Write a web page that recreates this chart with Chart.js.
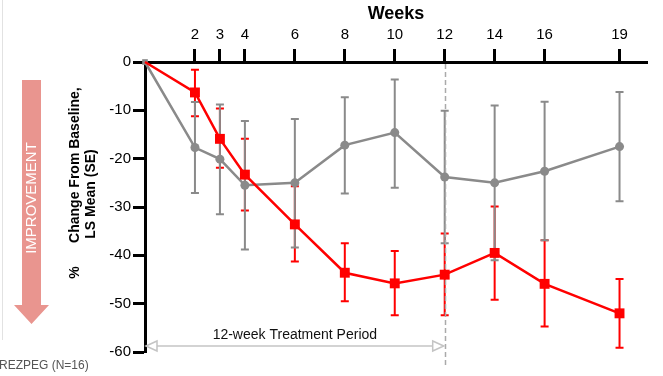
<!DOCTYPE html>
<html>
<head>
<meta charset="utf-8">
<script src="https://cdn.jsdelivr.net/npm/chart.js@4.4.1/dist/chart.umd.min.js"></script>
<style>
  html, body { margin: 0; padding: 0; background: #fff; }
  #wrap { width: 663px; height: 376px; position: relative; }
</style>
</head>
<body>
<div id="wrap"><canvas id="chart" width="663" height="376"></canvas></div>
<script>
// ------ data
const weeks = [0, 2, 3, 4, 6, 8, 10, 12, 14, 16, 19];
const weekTicks = [2, 3, 4, 6, 8, 10, 12, 14, 16, 19];

const rezpegMean = [0, -6.3, -15.9, -23.3, -33.6, -43.6, -45.8, -44.0, -39.5, -45.9, -52.0];
const rezpegHigh = [0, -1.6, -9.6, -15.9, -25.7, -37.5, -39.1, -35.5, -29.9, -36.9, -44.9];
const rezpegLow  = [0, -11.2, -21.9, -30.7, -41.3, -49.5, -52.4, -52.4, -49.2, -54.7, -59.1];

const placeboMean = [0, -17.7, -20.1, -25.5, -25.0, -17.2, -14.6, -23.8, -25.0, -22.6, -17.5];
const placeboHigh = [0, -8.3, -8.8, -12.2, -11.8, -7.3, -3.6, -10.1, -9.0, -8.2, -6.2];
const placeboLow  = [0, -27.1, -31.5, -38.8, -38.4, -27.2, -26.0, -37.5, -41.0, -36.9, -28.8];

const treatmentWeeks = 12;
const RED = '#ff0000';
const GREY = '#8a8a8a';

// ------ error bars, week-12 line, side annotations
const extras = {
    id: 'extras',
    beforeDatasetsDraw(chart) {
        const ctx = chart.ctx;
        const x = chart.scales.x, y = chart.scales.y;
        function bars(low, high, color) {
            ctx.save();
            ctx.strokeStyle = color;
            ctx.lineWidth = 2;
            for (let i = 1; i < weeks.length; i++) {
                const px = x.getPixelForValue(weeks[i]);
                const top = y.getPixelForValue(high[i]);
                const bot = y.getPixelForValue(low[i]);
                ctx.beginPath();
                ctx.moveTo(px, top); ctx.lineTo(px, bot);
                ctx.moveTo(px - 4, top); ctx.lineTo(px + 4, top);
                ctx.moveTo(px - 4, bot); ctx.lineTo(px + 4, bot);
                ctx.stroke();
            }
            ctx.restore();
        }
        bars(rezpegLow, rezpegHigh, RED);
        bars(placeboLow, placeboHigh, GREY);

        // dashed end-of-treatment line
        const px12 = Math.round(x.getPixelForValue(treatmentWeeks)) + 0.5;
        ctx.save();
        ctx.strokeStyle = '#aaaaaa';
        ctx.lineWidth = 1.5;
        ctx.setLineDash([5, 3]);
        ctx.beginPath();
        ctx.moveTo(px12, y.top + 2);
        ctx.lineTo(px12, y.bottom + 13);
        ctx.stroke();
        ctx.restore();
    },
    afterDraw(chart) {
        const ctx = chart.ctx;
        const x = chart.scales.x, y = chart.scales.y;

        // treatment period double arrow
        const x0 = x.getPixelForValue(0), x1 = x.getPixelForValue(treatmentWeeks);
        const ay = y.bottom - 6;
        ctx.save();
        ctx.strokeStyle = '#c4c4c4';
        ctx.lineWidth = 1.5;
        ctx.beginPath();
        ctx.moveTo(x0 + 12, ay); ctx.lineTo(x1 - 12, ay);
        ctx.stroke();
        ctx.fillStyle = '#fff';
        ctx.beginPath();
        ctx.moveTo(x0 + 1, ay); ctx.lineTo(x0 + 12, ay - 5); ctx.lineTo(x0 + 12, ay + 5); ctx.closePath();
        ctx.fill(); ctx.stroke();
        ctx.beginPath();
        ctx.moveTo(x1 - 1, ay); ctx.lineTo(x1 - 12, ay - 5); ctx.lineTo(x1 - 12, ay + 5); ctx.closePath();
        ctx.fill(); ctx.stroke();
        ctx.fillStyle = '#111';
        ctx.font = '14px Arial, "Liberation Sans", sans-serif';
        ctx.textAlign = 'center';
        ctx.textBaseline = 'middle';
        ctx.fillText('12-week Treatment Period', (x0 + x1) / 2, ay - 11);
        ctx.restore();

        // y axis title (two lines, rotated)
        ctx.save();
        ctx.fillStyle = '#000';
        ctx.font = 'bold 14px Arial, "Liberation Sans", sans-serif';
        ctx.textAlign = 'center';
        ctx.textBaseline = 'middle';
        ctx.translate(75, 183);
        ctx.rotate(-Math.PI / 2);
        ctx.fillText('%      Change From Baseline,', 0, 0);
        ctx.restore();
        ctx.save();
        ctx.fillStyle = '#000';
        ctx.font = 'bold 14px Arial, "Liberation Sans", sans-serif';
        ctx.textAlign = 'center';
        ctx.textBaseline = 'middle';
        ctx.translate(91, 194);
        ctx.rotate(-Math.PI / 2);
        ctx.fillText('LS Mean (SE)', 0, 0);
        ctx.restore();

        // improvement arrow
        ctx.save();
        ctx.fillStyle = '#e9958f';
        ctx.beginPath();
        ctx.moveTo(22, 80); ctx.lineTo(41, 80); ctx.lineTo(41, 305);
        ctx.lineTo(49, 305); ctx.lineTo(31.5, 324); ctx.lineTo(14, 305);
        ctx.lineTo(22, 305); ctx.closePath();
        ctx.fill();
        ctx.fillStyle = '#fff';
        ctx.font = '15px Arial, "Liberation Sans", sans-serif';
        ctx.textAlign = 'center';
        ctx.textBaseline = 'middle';
        ctx.translate(32, 198);
        ctx.rotate(-Math.PI / 2);
        ctx.fillText('IMPROVEMENT', 0, 0);
        ctx.restore();

        // left frame line and cut-off legend
        ctx.save();
        ctx.strokeStyle = '#e2e2e2';
        ctx.lineWidth = 1;
        ctx.beginPath();
        ctx.moveTo(2.5, 0); ctx.lineTo(2.5, 340);
        ctx.stroke();
        ctx.fillStyle = '#555';
        ctx.font = '12px Arial, "Liberation Sans", sans-serif';
        ctx.textAlign = 'left';
        ctx.textBaseline = 'middle';
        ctx.fillText('REZPEG (N=16)', -1, 366);
        ctx.restore();
    }
};

// ------ chart
const config = {
    type: 'line',
    data: {
        datasets: [{
            label: 'REZPEG',
            data: weeks.map((w, i) => ({ x: w, y: rezpegMean[i] })),
            borderColor: RED,
            backgroundColor: RED,
            borderWidth: 2.5,
            pointStyle: 'rect',
            pointRadius: weeks.map((w, i) => i === 0 ? 0 : 7),
            pointBorderWidth: 0,
            clip: false
        }, {
            label: 'Placebo',
            data: weeks.map((w, i) => ({ x: w, y: placeboMean[i] })),
            borderColor: GREY,
            backgroundColor: GREY,
            borderWidth: 2.5,
            pointStyle: weeks.map((w, i) => i === 0 ? 'rect' : 'circle'),
            pointRadius: weeks.map((w, i) => i === 0 ? 4 : 4.5),
            pointBorderWidth: 0,
            clip: false
        }]
    },
    options: {
        responsive: false,
        animation: false,
        layout: {
            padding: { top: 0, right: 16, bottom: 24, left: 0 }
        },
        plugins: {
            legend: { display: false },
            tooltip: { enabled: false }
        },
        scales: {
            x: {
                type: 'linear',
                position: 'top',
                min: 0,
                max: 20.1,
                afterBuildTicks: s => { s.ticks = weekTicks.map(v => ({ value: v })); },
                afterFit: s => { s.height = 62; },
                grid: { drawOnChartArea: false, tickLength: 13, tickWidth: 3, tickColor: '#000' },
                border: { width: 3, color: '#000' },
                ticks: {
                    color: '#000',
                    padding: 5,
                    maxRotation: 0,
                    autoSkip: false,
                    font: { family: 'Arial, "Liberation Sans", sans-serif', size: 15 }
                },
                title: {
                    display: true,
                    text: 'Weeks',
                    color: '#000',
                    padding: { top: 3, bottom: 0 },
                    font: { family: 'Arial, "Liberation Sans", sans-serif', size: 18, weight: 'bold' }
                }
            },
            y: {
                min: -60,
                max: 0,
                afterFit: s => { s.width = 145; },
                grid: { drawOnChartArea: false, tickLength: 12, tickWidth: 3, tickColor: '#000' },
                border: { width: 3, color: '#000' },
                ticks: {
                    stepSize: 10,
                    color: '#000',
                    padding: 2,
                    font: { family: 'Arial, "Liberation Sans", sans-serif', size: 15 }
                }
            }
        }
    },
    plugins: [extras]
};
const myChart = new Chart(document.getElementById('chart'), config);
</script>
</body>
</html>
